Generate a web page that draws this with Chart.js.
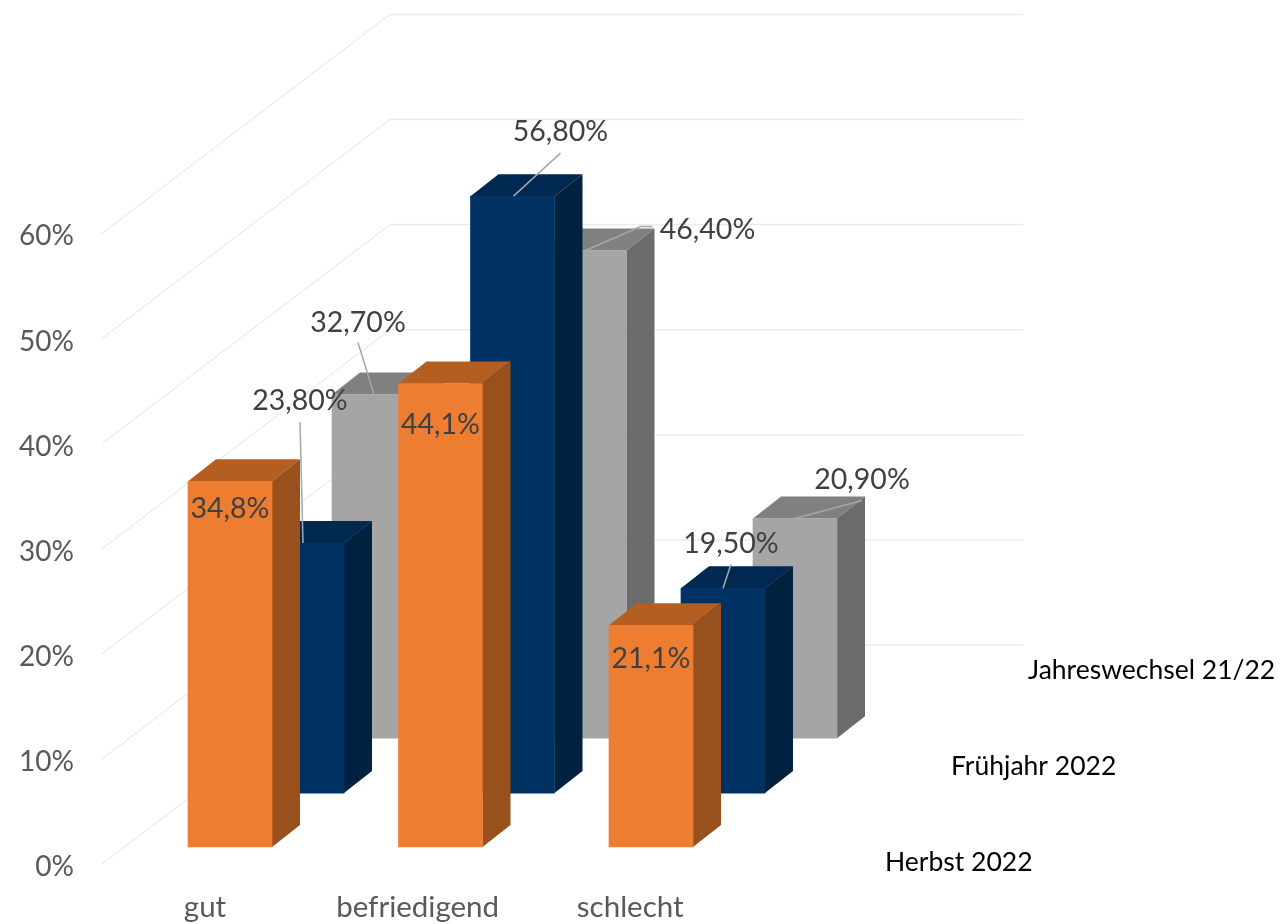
<!DOCTYPE html>
<html>
<head>
<meta charset="utf-8">
<title>Chart</title>
<script src="https://cdn.jsdelivr.net/npm/chart.js@4/dist/chart.umd.min.js"></script>
<style>
  html, body { margin: 0; padding: 0; background: #fff; overflow: hidden; }
  canvas { display: block; }
</style>
</head>
<body>
<canvas id="chart" width="1283" height="924"></canvas>
<script>
const categories = ["gut", "befriedigend", "schlecht"];
const seriesNames = ["Herbst 2022", "Frühjahr 2022", "Jahreswechsel 21/22"];
const herbst = [34.8, 44.1, 21.1];
const fruehjahr = [23.8, 56.8, 19.5];
const jahreswechsel = [32.7, 46.4, 20.9];
const yTicks = [0, 10, 20, 30, 40, 50, 60];

// fake 3d: each series sits further back, shifted along both scales
const xShift = [0.1188, 0.4608, 0.8029];
const yLift = [1.71, 6.84, 12.07];
const decimals = [1, 2, 2];
const fronts = ["#ED7D31", "#003263", "#A5A5A5"];
const sides = ["#98501C", "#00213F", "#6B6B6B"];
const tops = ["#B55E22", "#002850", "#808080"];
const depthX = 28, depthY = 22;
const wallX = 288, wallY = 219, wallEnd = 1023;
const FONT = "Lato, sans-serif";

// label position and leader line, relative to top centre of the bar
const labelSpots = [
  [{ at: [0, 28] }, { at: [0, 41] }, { at: [0, 34] }],
  [{ at: [-2, -142], line: [[-2, -121], [1, 0]] },
   { at: [48, -64], line: [[48, -43], [1, 0]] },
   { at: [8, -44], line: [[8, -24], [0, 0]] }],
  [{ at: [-16, -72], line: [[-16, -52], [0, 0]] },
   { at: [123, -21], line: [[68, -24], [56, -24], [1, 0]] },
   { at: [67, -39], line: [[67, -18], [0, 0]] }]
];
const seriesLabelSpots = [[885, 862], [951, 766], [1028, 670]];

function makeData(values, s) {
  return values.map((v, i) => ({ x: i + xShift[s], y: [yLift[s], yLift[s] + v] }));
}

const walls = {
  id: "walls",
  beforeDatasetsDraw(chart) {
    const { ctx, chartArea, scales } = chart;
    ctx.save();
    yTicks.forEach(t => {
      const y = scales.y.getPixelForValue(t) - 1;
      ctx.beginPath();
      ctx.strokeStyle = "#E2E2E2";
      ctx.lineWidth = 1;
      ctx.moveTo(chartArea.left, y);
      ctx.lineTo(chartArea.left + wallX, y - wallY);
      ctx.stroke();
      ctx.beginPath();
      ctx.strokeStyle = "#EBEBEB";
      ctx.lineWidth = 1.5;
      ctx.moveTo(chartArea.left + wallX, y - wallY);
      ctx.lineTo(wallEnd, y - wallY);
      ctx.stroke();
    });
    ctx.restore();
  }
};

function face(ctx, color, pts) {
  ctx.fillStyle = color;
  ctx.beginPath();
  pts.forEach((p, i) => i ? ctx.lineTo(p[0], p[1]) : ctx.moveTo(p[0], p[1]));
  ctx.closePath();
  ctx.fill();
}

const boxes = {
  id: "boxes",
  beforeDatasetDraw(chart, args) {
    const ctx = chart.ctx;
    args.meta.data.forEach(bar => {
      const { x, y, base, width } = bar.getProps(["x", "y", "base", "width"], true);
      const l = x - width / 2, r = x + width / 2;
      face(ctx, tops[args.index], [[l, y], [r, y], [r + depthX, y - depthY], [l + depthX, y - depthY]]);
      face(ctx, sides[args.index], [[r, y], [r + depthX, y - depthY], [r + depthX, base - depthY], [r, base]]);
    });
  }
};

const labels = {
  id: "labels",
  afterDatasetsDraw(chart) {
    const ctx = chart.ctx;
    ctx.save();
    ctx.textAlign = "center";
    ctx.textBaseline = "middle";
    ctx.font = "28.5px " + FONT;
    chart.data.datasets.forEach((ds, s) => {
      chart.getDatasetMeta(s).data.forEach((bar, i) => {
        const spot = labelSpots[s][i];
        if (spot.line) {
          ctx.beginPath();
          ctx.strokeStyle = "#A6A6A6";
          ctx.lineWidth = 1.5;
          spot.line.forEach((p, k) => {
            if (k) ctx.lineTo(bar.x + p[0], bar.y + p[1]);
            else ctx.moveTo(bar.x + p[0], bar.y + p[1]);
          });
          ctx.stroke();
        }
        const v = ds.values[i].toFixed(decimals[s]).replace(".", ",") + "%";
        ctx.fillStyle = "#404040";
        ctx.fillText(v, bar.x + spot.at[0], bar.y + spot.at[1]);
      });
    });
    ctx.textAlign = "left";
    ctx.fillStyle = "#000";
    ctx.font = "26.5px " + FONT;
    seriesNames.forEach((name, s) => {
      ctx.fillText(name, seriesLabelSpots[s][0], seriesLabelSpots[s][1]);
    });
    ctx.restore();
  }
};

const seriesValues = [herbst, fruehjahr, jahreswechsel];

new Chart(document.getElementById("chart"), {
  type: "bar",
  data: {
    datasets: seriesValues.map((values, s) => ({
      label: seriesNames[s],
      values: values,
      data: makeData(values, s),
      backgroundColor: fronts[s],
      borderWidth: 0,
      barThickness: 84,
      grouped: false
    }))
  },
  options: {
    responsive: false,
    animation: false,
    layout: { padding: 0 },
    plugins: { legend: { display: false }, tooltip: { enabled: false } },
    scales: {
      x: {
        type: "linear",
        offset: false,
        min: -0.4893,
        max: 5.1212,
        grid: { display: false },
        border: { display: false },
        afterFit(axis) { axis.height = 59; },
        afterBuildTicks(axis) {
          axis.ticks = [{ value: 0 }, { value: 1.01 }, { value: 2.02 }];
        },
        ticks: {
          autoSkip: false,
          maxRotation: 0,
          padding: 17,
          color: "#595959",
          font: { family: FONT, size: 29.5 },
          callback: (v, i) => categories[i]
        }
      },
      y: {
        min: 0,
        max: 78.8,
        grid: { display: false },
        border: { display: false },
        afterFit(axis) { axis.width = 102; },
        afterBuildTicks(axis) {
          axis.ticks = yTicks.map(t => ({ value: t }));
        },
        ticks: {
          autoSkip: false,
          padding: 20,
          labelOffset: 2,
          color: "#595959",
          font: { family: FONT, size: 28 },
          callback: v => v + "%"
        }
      }
    }
  },
  plugins: [walls, boxes, labels]
});
</script>
</body>
</html>
